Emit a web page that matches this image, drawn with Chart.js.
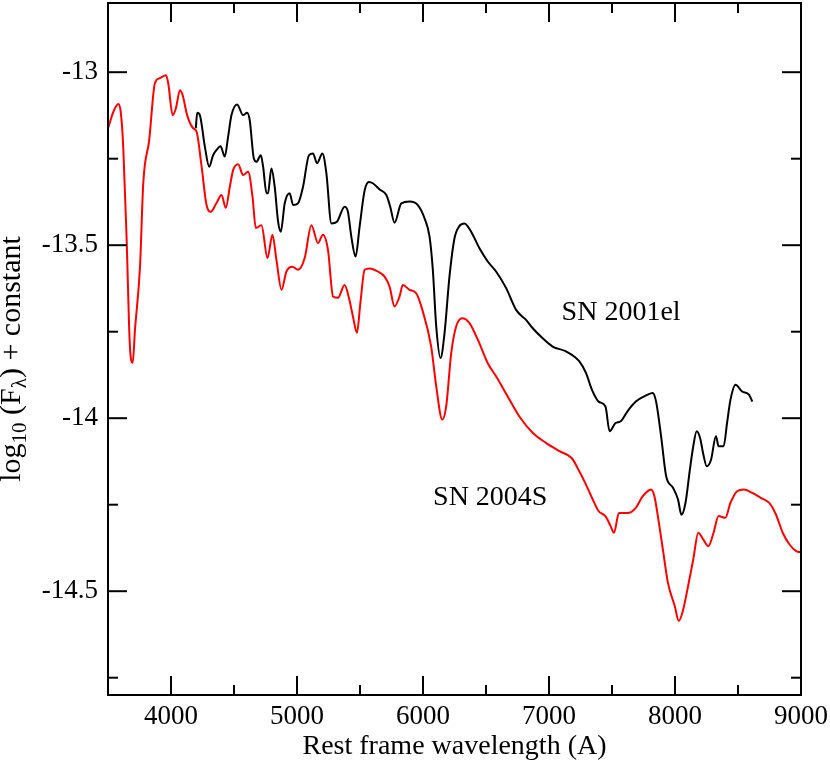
<!DOCTYPE html>
<html>
<head>
<meta charset="utf-8">
<script src="https://cdn.jsdelivr.net/npm/chart.js@4.4.1/dist/chart.umd.min.js"></script>
<style>
  html, body { margin: 0; padding: 0; background: #fff; }
  #wrap { width: 830px; height: 763px; position: relative; }
</style>
</head>
<body>
<div id="wrap"><canvas id="c"></canvas></div>
<script>
// ---- Data ----
const sn2004sWave = [3500,3516,3542,3582,3601,3621,3648,3674,3696,3714,3754,3780,3827,3872,3912,3960,3978,4013,4039,4071,4092,4128,4176,4203,4243,4282,4316,4361,4401,4435,4467,4493,4533,4572,4612,4647,4673,4718,4766,4805,4837,4877,4916,4964,5008,5061,5114,5167,5206,5246,5286,5325,5378,5412,5444,5476,5503,5537,5576,5642,5695,5735,5774,5814,5840,5893,5946,5999,6065,6105,6153,6184,6224,6263,6311,6369,6435,6514,6580,6672,6765,6872,6979,7087,7180,7234,7287,7341,7394,7448,7489,7516,7555,7623,7689,7743,7810,7837,7864,7904,7944,7998,8030,8065,8104,8145,8185,8225,8265,8306,8346,8399,8440,8493,8547,8614,8681,8748,8802,8855,8909,8962,9000];
const sn2004sFlux = [-13.162,-13.144,-13.115,-13.092,-13.115,-13.216,-13.485,-13.793,-13.840,-13.745,-13.562,-13.320,-13.196,-13.032,-13.017,-13.009,-13.032,-13.124,-13.104,-13.052,-13.066,-13.124,-13.162,-13.172,-13.273,-13.384,-13.403,-13.378,-13.355,-13.392,-13.331,-13.283,-13.266,-13.297,-13.288,-13.360,-13.450,-13.442,-13.537,-13.470,-13.543,-13.629,-13.576,-13.562,-13.571,-13.537,-13.442,-13.494,-13.470,-13.514,-13.648,-13.652,-13.615,-13.652,-13.706,-13.753,-13.667,-13.571,-13.567,-13.576,-13.591,-13.620,-13.677,-13.648,-13.615,-13.629,-13.639,-13.692,-13.793,-13.908,-14.004,-13.966,-13.812,-13.735,-13.711,-13.725,-13.773,-13.841,-13.879,-13.937,-13.995,-14.043,-14.072,-14.096,-14.115,-14.149,-14.187,-14.230,-14.269,-14.283,-14.312,-14.331,-14.274,-14.274,-14.259,-14.226,-14.206,-14.226,-14.283,-14.380,-14.476,-14.543,-14.586,-14.553,-14.485,-14.408,-14.331,-14.351,-14.370,-14.331,-14.283,-14.288,-14.245,-14.211,-14.206,-14.216,-14.230,-14.245,-14.279,-14.331,-14.365,-14.384,-14.388];

const sn2001elWave = [4197,4208,4229,4269,4303,4334,4361,4393,4427,4453,4480,4525,4572,4604,4625,4657,4678,4713,4731,4758,4770,4797,4823,4850,4871,4903,4942,4969,5008,5048,5095,5127,5159,5202,5233,5273,5317,5378,5404,5431,5465,5497,5537,5571,5602,5656,5709,5740,5774,5828,5893,5959,6012,6052,6078,6105,6139,6171,6210,6250,6290,6329,6382,6448,6514,6580,6660,6739,6818,6871,6950,7029,7135,7241,7294,7341,7394,7448,7481,7528,7569,7623,7689,7756,7823,7850,7890,7930,7984,8024,8051,8083,8118,8145,8172,8199,8225,8252,8286,8325,8346,8386,8413,8440,8480,8533,8587,8614];
const sn2001elFlux = [-13.162,-13.117,-13.124,-13.216,-13.273,-13.240,-13.225,-13.214,-13.244,-13.187,-13.124,-13.093,-13.124,-13.117,-13.139,-13.249,-13.259,-13.240,-13.273,-13.350,-13.349,-13.278,-13.331,-13.432,-13.461,-13.378,-13.350,-13.384,-13.379,-13.331,-13.240,-13.235,-13.263,-13.235,-13.292,-13.437,-13.432,-13.389,-13.403,-13.475,-13.533,-13.446,-13.341,-13.317,-13.321,-13.339,-13.355,-13.389,-13.435,-13.379,-13.374,-13.384,-13.422,-13.475,-13.571,-13.735,-13.826,-13.754,-13.591,-13.480,-13.444,-13.437,-13.461,-13.509,-13.547,-13.576,-13.624,-13.687,-13.716,-13.740,-13.769,-13.793,-13.807,-13.836,-13.870,-13.918,-13.952,-13.966,-14.038,-14.014,-14.009,-13.980,-13.952,-13.937,-13.927,-13.952,-14.053,-14.168,-14.201,-14.235,-14.279,-14.245,-14.149,-14.081,-14.038,-14.057,-14.105,-14.139,-14.120,-14.052,-14.081,-14.081,-14.014,-13.947,-13.903,-13.923,-13.932,-13.952];

const xMajorTicks = [4000, 5000, 6000, 7000, 8000, 9000];
const xMinorTicks = [4500, 5500, 6500, 7500, 8500];
const yMajorTicks = [-13, -13.5, -14, -14.5];
const yMinorTicks = [-13.25, -13.75, -14.25, -14.75];

const seriesNames = ['SN 2001el', 'SN 2004S'];
const labelWave = [7100, 6080];
const labelFlux = [-13.716, -14.250];

const xTitle = 'Rest frame wavelength (A)';

// ---- Chart ----
const FONT = "'Liberation Serif', 'Times New Roman', serif";

function toPoints(xs, ys) { return xs.map((v, i) => ({ x: v, y: ys[i] })); }

const framePlugin = {
  id: 'frameTicks',
  afterDraw(chart) {
    const { ctx, chartArea: a, scales: { x, y } } = chart;
    ctx.save();
    ctx.strokeStyle = '#000';
    ctx.lineWidth = 2;
    ctx.lineCap = 'butt';
    ctx.strokeRect(a.left, a.top, a.right - a.left, a.bottom - a.top);
    const seg = (x1, y1, x2, y2) => { ctx.beginPath(); ctx.moveTo(x1, y1); ctx.lineTo(x2, y2); ctx.stroke(); };
    const drawX = (vals, L) => vals.forEach(v => {
      const px = x.getPixelForValue(v);
      if (px <= a.left + 1 || px >= a.right - 1) return;
      seg(px, a.bottom, px, a.bottom - L);
      seg(px, a.top, px, a.top + L);
    });
    const drawY = (vals, L) => vals.forEach(v => {
      const py = y.getPixelForValue(v);
      if (py <= a.top + 1 || py >= a.bottom - 1) return;
      seg(a.left, py, a.left + L, py);
      seg(a.right, py, a.right - L, py);
    });
    drawX(xMajorTicks, 19); drawX(xMinorTicks, 10);
    drawY(yMajorTicks, 19); drawY(yMinorTicks, 10);

    // series labels
    ctx.fillStyle = '#000';
    ctx.font = '28px ' + FONT;
    ctx.textAlign = 'left';
    ctx.textBaseline = 'alphabetic';
    seriesNames.forEach((t, i) => {
      ctx.fillText(t, x.getPixelForValue(labelWave[i]), y.getPixelForValue(labelFlux[i]));
    });

    // y-axis title with subscripts, rotated
    const parts = [
      { t: 'log', sub: false }, { t: '10', sub: true }, { t: ' (F', sub: false },
      { t: 'λ', sub: true }, { t: ') + constant', sub: false }
    ];
    const big = '30px ' + FONT, small = '21px ' + FONT;
    let total = 0;
    parts.forEach(p => { ctx.font = p.sub ? small : big; p.w = ctx.measureText(p.t).width; total += p.w; });
    const cy = (a.top + a.bottom) / 2 + 10;
    ctx.translate(20, cy);
    ctx.rotate(-Math.PI / 2);
    let cx = -total / 2;
    parts.forEach(p => {
      ctx.font = p.sub ? small : big;
      ctx.fillText(p.t, cx, p.sub ? 6 : 0);
      cx += p.w;
    });
    ctx.restore();
  }
};

new Chart(document.getElementById('c'), {
  type: 'line',
  data: {
    datasets: [
      {
        label: seriesNames[0],
        data: toPoints(sn2001elWave, sn2001elFlux),
        borderColor: '#000000',
        borderWidth: 2,
        pointRadius: 0,
        cubicInterpolationMode: 'monotone',
        fill: false
      },
      {
        label: seriesNames[1],
        data: toPoints(sn2004sWave, sn2004sFlux),
        borderColor: '#ff0000',
        borderWidth: 2,
        pointRadius: 0,
        cubicInterpolationMode: 'monotone',
        fill: false
      }
    ]
  },
  options: {
    responsive: true,
    maintainAspectRatio: false,
    animation: false,
    layout: { padding: { top: 3, right: 29, left: 0, bottom: 0 } },
    plugins: { legend: { display: false }, tooltip: { enabled: false } },
    scales: {
      x: {
        type: 'linear',
        min: 3500,
        max: 9000,
        afterBuildTicks: s => { s.ticks = xMajorTicks.map(v => ({ value: v })); },
        afterFit: s => { s.height = 68; s.paddingLeft = 0; s.paddingRight = 0; s.paddingTop = 0; s.paddingBottom = 0; },
        grid: { display: false, drawTicks: false, tickLength: 0 },
        border: { display: false },
        ticks: {
          color: '#000',
          font: { family: FONT, size: 27 },
          padding: 6,
          maxRotation: 0,
          autoSkip: false,
          callback: v => String(v)
        },
        title: {
          display: true,
          text: xTitle,
          color: '#000',
          font: { family: FONT, size: 28 },
          padding: 0
        }
      },
      y: {
        type: 'linear',
        min: -14.8,
        max: -12.8,
        afterBuildTicks: s => { s.ticks = yMajorTicks.map(v => ({ value: v })); },
        afterFit: s => { s.width = 108; s.paddingTop = 0; s.paddingBottom = 0; s.paddingLeft = 0; s.paddingRight = 0; },
        grid: { display: false, drawTicks: false, tickLength: 0 },
        border: { display: false },
        ticks: {
          color: '#000',
          font: { family: FONT, size: 27 },
          padding: 10,
          autoSkip: false,
          callback: v => String(v)
        }
      }
    }
  },
  plugins: [framePlugin]
});
</script>
</body>
</html>
